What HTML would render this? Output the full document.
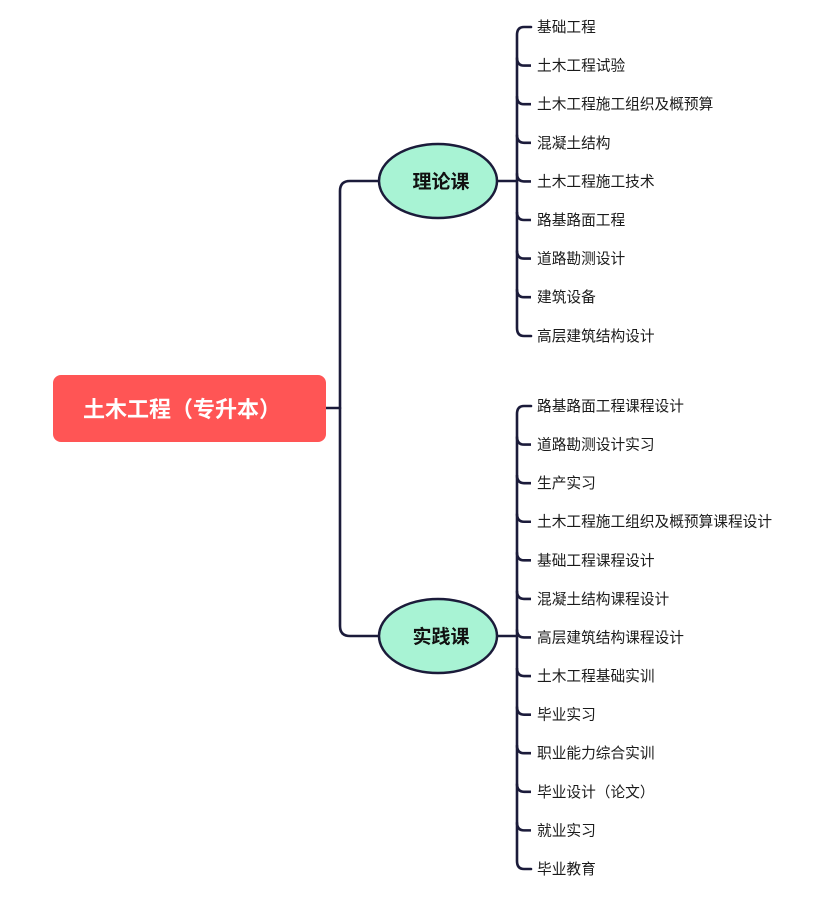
<!DOCTYPE html>
<html><head><meta charset="utf-8"><style>
body{margin:0;background:#fff;width:830px;height:913px;overflow:hidden}
text{font-family:"Liberation Sans","Noto Sans CJK SC",sans-serif}
</style></head><body>
<svg width="830" height="913" xmlns="http://www.w3.org/2000/svg">
<g fill="none" stroke="#1b1b3a" stroke-width="2.6" stroke-linecap="round">
<path d="M326 408 H340"/>
<path d="M380 181 H350 Q340 181 340 191 V626 Q340 636 350 636 H380"/>
<path d="M497 181 H517"/>
<path d="M497 636 H517"/>
<path d="M531 27 H524 Q517 27 517 35 V328 Q517 336 524 336 H531"/>
<path d="M531 406 H524 Q517 406 517 414 V861 Q517 869 524 869 H531"/>
</g>
<g fill="none" stroke="#1b1b3a" stroke-width="2.6" id="ticks"></g>
<rect x="53" y="375" width="273" height="67" rx="8" fill="#ff5555"/>
<text x="182" y="417" fill="#fff" font-size="22" font-weight="bold" text-anchor="middle">土木工程（专升本）</text>
<ellipse cx="438" cy="181" rx="59" ry="37" fill="#a8f3d4" stroke="#1b1b3a" stroke-width="2.5"/>
<ellipse cx="438" cy="636" rx="59" ry="37" fill="#a8f3d4" stroke="#1b1b3a" stroke-width="2.5"/>
<text x="441" y="188" font-size="19" font-weight="bold" text-anchor="middle" fill="#111">理论课</text>
<text x="441" y="643" font-size="19" font-weight="bold" text-anchor="middle" fill="#111">实践课</text>
<g font-size="14.7" fill="#1a1a1a" id="labels"></g>
</svg>
<script>
var a=["基础工程","土木工程试验","土木工程施工组织及概预算","混凝土结构","土木工程施工技术","路基路面工程","道路勘测设计","建筑设备","高层建筑结构设计"];
var b=["路基路面工程课程设计","道路勘测设计实习","生产实习","土木工程施工组织及概预算课程设计","基础工程课程设计","混凝土结构课程设计","高层建筑结构课程设计","土木工程基础实训","毕业实习","职业能力综合实训","毕业设计（论文）","就业实习","毕业教育"];
var L=document.getElementById("labels"),T=document.getElementById("ticks"),ns="http://www.w3.org/2000/svg";
function add(list,y0,dy){list.forEach(function(s,i){var y=y0+i*dy;var t=document.createElementNS(ns,"text");t.setAttribute("x",537);t.setAttribute("y",y+5);t.textContent=s;L.appendChild(t);
if(i>0&&i<list.length-1){var p=document.createElementNS(ns,"path");p.setAttribute("d","M517 "+(y-8)+" Q517 "+y+" 524 "+y+" H531");T.appendChild(p);}});}
add(a,27,38.6);add(b,406,38.58);
</script>
</body></html>
